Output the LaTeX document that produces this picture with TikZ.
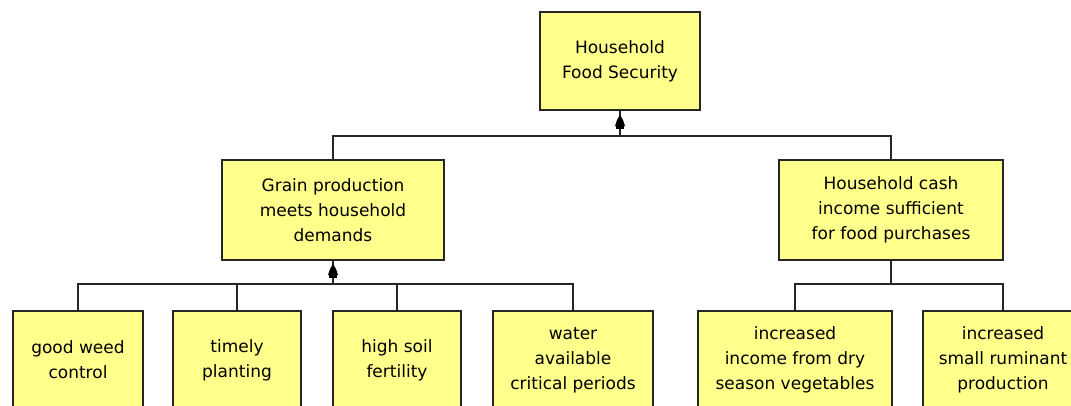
\documentclass[tikz,border=0pt]{standalone}
\usepackage{fontspec}
\setmainfont{DejaVu Sans}
\definecolor{boxyellow}{HTML}{FFFF8C}
\begin{document}
\begin{tikzpicture}[x=1pt,y=-1pt,
  box/.style={draw=black!85, line width=1.3pt, fill=boxyellow, minimum width=#1,
    minimum height=98pt, align=center, inner sep=0pt,
    font=\fontsize{17}{25}\selectfont},
  conn/.style={draw=black!85, line width=1.5pt},
  headfill/.style={fill=black}]
\useasboundingbox (0,0) rectangle (1071,405);
\fill[white] (0,0) rectangle (1071,405);
\clip (0,0) rectangle (1071,405);
% nodes
\node[box=160] (top) at (620,61) {Household\\Food Security};
\node[box=222, minimum height=100pt] (grain) at (333,210) {Grain production\\meets household\\demands};
\node[box=224, minimum height=100pt] (cash) at (891,210) {Household cash\\income sufficient\\for food purchases};
\node[box=130] (b1) at (78,360) {good weed\\control};
\node[box=128] (b2) at (237,360) {timely\\planting};
\node[box=128] (b3) at (397,360) {high soil\\fertility};
\node[box=160] (b4) at (573,360) {water\\available\\critical periods};
\node[box=194] (b5) at (795,360) {increased\\income from dry\\season vegetables};
\node[box=160] (b6) at (1003,360) {increased\\small ruminant\\production};
% junctions
\coordinate (j0) at (620,136);
\coordinate (a0) at (620,115);
\coordinate (j1) at (333,284);
\coordinate (a1) at (333,264);
\coordinate (j2) at (891,284);
% top level connectors
\draw[conn] (grain.north) -- (grain.north |- j0) -- (cash.north |- j0) -- (cash.north);
\draw[conn] (j0) -- (top.south);
\fill[headfill] (a0) -- ++(-3,5) -- ++(-2,6) -- ++(10,0) -- ++(-2,-6) -- cycle;
\fill[headfill] ([xshift=-4pt,yshift=-11pt]a0) rectangle ([xshift=4pt,yshift=-14pt]a0);
% grain group
\draw[conn] (b1.north) -- (b1.north |- j1) -- (b4.north |- j1) -- (b4.north);
\draw[conn] (b2.north) -- (b2.north |- j1);
\draw[conn] (b3.north) -- (b3.north |- j1);
\draw[conn] (j1) -- (grain.south);
\fill[headfill] (a1) -- ++(-3,5) -- ++(-2,6) -- ++(10,0) -- ++(-2,-6) -- cycle;
\fill[headfill] ([xshift=-4pt,yshift=-11pt]a1) rectangle ([xshift=4pt,yshift=-14pt]a1);
% cash group
\draw[conn] (cash.south) -- (j2);
\draw[conn] (b5.north) -- (b5.north |- j2) -- (b6.north |- j2) -- (b6.north);
\end{tikzpicture}
\end{document}
